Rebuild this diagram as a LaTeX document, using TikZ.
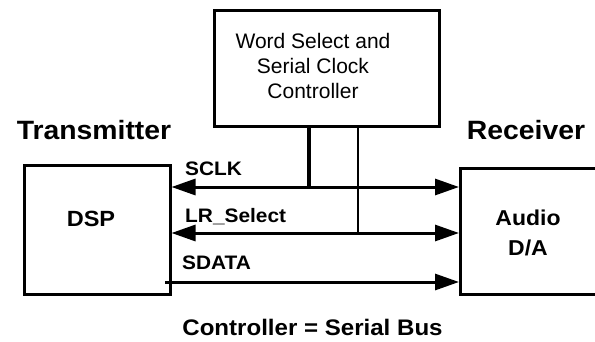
\documentclass[tikz,border=0pt]{standalone}
\usepackage{fontspec}
\setmainfont{Liberation Sans}
\newfontfamily\widebold[FakeStretch=1.07]{Liberation Sans}
\usetikzlibrary{arrows.meta}
\tikzset{
  x=1pt, y=-1pt,
  box/.style={draw, line width=3pt, inner sep=0pt},
  boldtext/.style={inner sep=0pt, anchor=base, font=\widebold\bfseries\fontsize{#1}{#1}\selectfont},
  plaintext/.style={inner sep=0pt, anchor=base, font=\fontsize{21}{24.5}\selectfont},
  bus/.style={line width=3pt},
  >={Triangle[length=24pt, width=16pt]},
}
\begin{document}
\begin{tikzpicture}
\useasboundingbox (0,0) rectangle (595,341);

% blocks
\node[box, minimum width=146pt, minimum height=129pt] (dsp) at (97,229.5) {};
\node[box, minimum width=141pt, minimum height=126pt, anchor=north west] (rx) at (459,167) {};
\node[box, minimum width=225pt, minimum height=116pt, anchor=north west] (ctrl) at (213,9) {};

% controller text
\node[plaintext] (c1) at (313,48) {Word Select and};
\node[plaintext] (c2) at (313,73) {Serial Clock};
\node[plaintext] (c3) at (313,98) {Controller};

% headings and block labels
\node[boldtext=26.5] (tx) at (94,139) {Transmitter};
\node[boldtext=26.5] (rxh) at (526,139) {Receiver};
\node[boldtext=22] (dspt) at (91,226) {DSP};
\node[boldtext=21.5] (aud) at (528,225) {Audio};
\node[boldtext=21.5] (da) at (528,255) {D/A};

% signal labels
\node[boldtext=19.5, anchor=base west] (lsclk) at (185,175) {SCLK};
\node[boldtext=19.5, anchor=base west] (llr) at (185,222) {LR\_Select};
\node[boldtext=19.5, anchor=base west] (lsd) at (182,269) {SDATA};

\node[boldtext=22.5] (cap) at (312.5,335) {Controller = Serial Bus};

% bus lines
\coordinate (sclkL) at (dsp.east |- 0,187);
\coordinate (sclkR) at (rx.west |- 0,187);
\coordinate (lrL) at (dsp.east |- 0,233);
\coordinate (lrR) at (rx.west |- 0,233);
\coordinate (sdL) at (165,282);
\coordinate (sdR) at (rx.west |- 0,282);
\coordinate (j1) at (309,187);
\coordinate (j2) at (358,233);

\draw[bus, <->] (sclkL) -- (sclkR);
\draw[bus, <->] (lrL) -- (lrR);
\draw[bus, ->] (sdL) -- (sdR);

\draw[line width=4pt] (ctrl.south -| j1) -- (j1);
\draw[line width=2pt] (ctrl.south -| j2) -- (j2);
\end{tikzpicture}
\end{document}
